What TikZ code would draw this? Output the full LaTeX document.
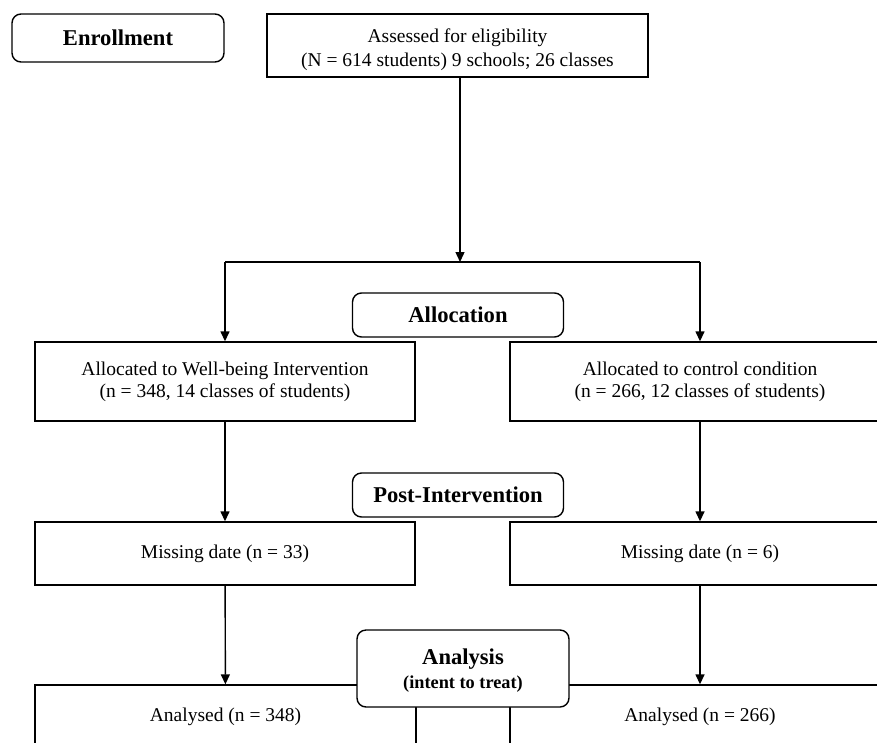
\documentclass[tikz,border=0pt]{standalone}
\usepackage{fontspec}
\setmainfont{Liberation Serif}
\usetikzlibrary{arrows.meta}

\begin{document}
\begin{tikzpicture}[x=1pt, y=-1pt,
    box/.style={draw, line width=1.4pt, align=center, inner sep=0pt},
    stage/.style={box, rounded corners=9pt, font=\bfseries\fontsize{22.6}{26}\selectfont},
    body/.style={font=\fontsize{19.5}{22}\selectfont},
    link/.style={line width=1.4pt},
    arr/.style={link, -{Triangle[length=10pt,width=9pt]}}]
    \path[use as bounding box, clip] (0,0) rectangle (877,742);

    % stages and boxes
    \node[stage, minimum width=212, minimum height=48] (enrol) at (118,38) {Enrollment};
    \node[box, body, minimum width=381, minimum height=63] (assess) at (457.5,45.5)
        {\rule{0pt}{22pt}Assessed for eligibility\\[2pt](N = 614 students) 9 schools; 26 classes};

    \node[stage, minimum width=211, minimum height=44] (alloc) at (458,315) {Allocation};
    \node[box, body, minimum width=380, minimum height=79] (intv) at (225,381.5)
        {Allocated to Well-being Intervention\\(n = 348, 14 classes of students)};
    \node[box, body, minimum width=380, minimum height=79] (ctrl) at (700,381.5)
        {Allocated to control condition\\(n = 266, 12 classes of students)};

    \node[stage, minimum width=211, minimum height=44] (post) at (458,495) {Post-Intervention};
    \node[box, body, minimum width=380, minimum height=63] (missi) at (225,553.5) {Missing date (n = 33)};
    \node[box, body, minimum width=380, minimum height=63] (missc) at (700,553.5) {Missing date (n = 6)};

    \node[box, body, minimum width=381, minimum height=64] (anai) at (225.5,717) {Analysed (n = 348)};
    \node[box, body, minimum width=380, minimum height=64] (anac) at (700,717) {Analysed (n = 266)};
    \node[stage, fill=white, minimum width=212, minimum height=77] (anal) at (463,668.5)
        {\rule{0pt}{20pt}Analysis\\[-2pt]{\fontsize{18.3}{22}\selectfont (intent to treat)}};

    % connectors
    \coordinate (split) at (460,262);
    \draw[arr] (assess.south -| split) -- (split);
    \draw[link] (intv.north |- split) -- (ctrl.north |- split);
    \draw[arr] (intv.north |- split) -- (intv.north);
    \draw[arr] (ctrl.north |- split) -- (ctrl.north);
    \draw[arr] (intv) -- (missi);
    \draw[arr] (ctrl) -- (missc);
    \draw[arr] (missi) -- (anai);
    \draw[arr] (missc) -- (anac);
\end{tikzpicture}
\end{document}
